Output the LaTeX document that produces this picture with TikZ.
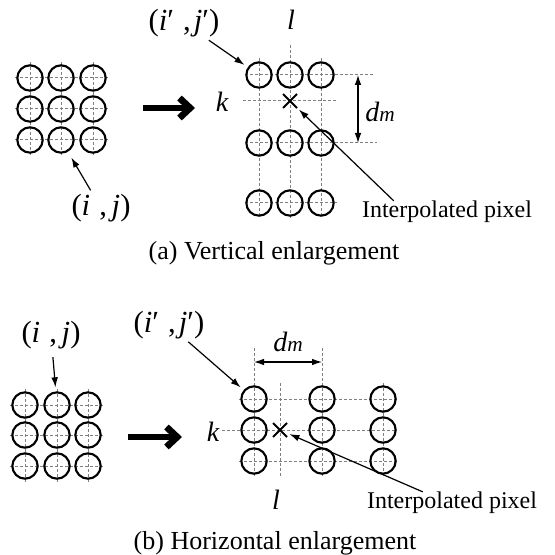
\documentclass[tikz,border=0pt]{standalone}
\usepackage{fontspec}
\setmainfont{Liberation Serif}
\usetikzlibrary{arrows.meta,shapes.misc}

\tikzset{
  pixel/.style={circle, draw, line width=1.6pt, minimum size=19pt, inner sep=0pt},
  gridline/.style={draw=gray, line width=0.75pt, dash pattern=on 2.25pt off 1.5pt},
  ptr/.style={-{Latex[length=7.5pt,width=5pt]}, line width=0.9pt},
  dimarrow/.style={{Latex[length=7.5pt,width=5pt]}-{Latex[length=7.5pt,width=5pt]}, line width=0.9pt},
  bigarrow/.style={-{Straight Barb[length=8pt,width=15pt]}, line width=5pt},
  txt/.style={font=\fontsize{18}{22}\selectfont, inner sep=0pt},
  coord/.style={font=\fontsize{23}{26}\selectfont, inner sep=0pt},
  var/.style={font=\fontsize{21}{24}\selectfont\itshape, inner sep=0pt},
  captext/.style={font=\fontsize{19.5}{24}\selectfont, inner sep=0pt},
  interp/.style={draw, cross out, line width=1.5pt, minimum size=9pt, inner sep=0pt},
}
\newcommand{\dmlabel}{\textit{d}{\fontsize{16}{18}\selectfont\textit{m}}}
\newcommand{\ijlabel}{(\textit{i}\hspace{0.3em},\hspace{0.15em}\textit{j})}
\newcommand{\ijplabel}{(\textit{i}′\hspace{0.3em},\hspace{0.1em}\textit{j}′)}

\begin{document}
\begin{tikzpicture}[x=0.75pt, y=-0.75pt]
\useasboundingbox (0,0) rectangle (554,555);

% (a) original pixels
\foreach \x in {30,61,93}
  \draw[gridline] (\x,62) -- (\x,156);
\foreach \y in {78,109,140}
  \draw[gridline] (15,\y) -- (109,\y);
\foreach \c/\x in {1/30,2/61,3/93}
  \foreach \r/\y in {1/78,2/109,3/140}
    \node[pixel] (a\r\c) at (\x,\y) {};

\node[coord] (ija) at (101,208) {\ijlabel};
\draw[ptr, shorten <=3pt, shorten >=5pt] (ija) -- (a32);

\coordinate (bigas) at (143,108);
\coordinate (bigae) at (195,108);
\draw[bigarrow] (bigas) -- (bigae);

% (a) vertically enlarged pixels
\draw[gridline] (259,58) -- (259,218);
\draw[gridline] (290,45) -- (290,218);
\draw[gridline] (321,58) -- (321,218);
\draw[gridline] (245,75) -- (375,75);
\draw[gridline] (245,143) -- (377,143);
\draw[gridline] (245,203) -- (337,203);
\draw[gridline] (243,101) -- (337,101);
\foreach \c/\x in {1/259,2/290,3/321}
  \foreach \r/\y in {1/75,2/143,3/203}
    \node[pixel] (v\r\c) at (\x,\y) {};
\node[interp] (xv) at (290,101) {};

\node[coord] (ijpa) at (184,23) {\ijplabel};
\draw[ptr, shorten <=4pt, shorten >=3pt] (ijpa) -- (v11);
\node[var] (kv) at (222,102) {k};
\node[var] (lv) at (291,20) {l};
\coordinate (dvt) at (358,75);
\coordinate (dvb) at (358,143);
\draw[dimarrow] (dvt) -- (dvb);
\node[var, font=\fontsize{21}{24}\selectfont] (dv) at (380,112) {\dmlabel};
\node[txt] (ipv) at (447,212) {Interpolated pixel};
\draw[ptr, shorten >=2pt] ([xshift=24pt]ipv.north west) -- (xv);

\node[captext] (capa) at (274,253) {(a) Vertical enlargement};

% (b) original pixels
\foreach \x in {25,57,88}
  \draw[gridline] (\x,389) -- (\x,482);
\foreach \y in {405,435,466}
  \draw[gridline] (10,\y) -- (104,\y);
\foreach \c/\x in {1/25,2/57,3/88}
  \foreach \r/\y in {1/405,2/435,3/466}
    \node[pixel] (b\r\c) at (\x,\y) {};

\node[coord] (ijb) at (51,335) {\ijlabel};
\draw[ptr, shorten <=6pt, shorten >=3pt] (ijb) -- (b12);

\coordinate (bigbs) at (128,437);
\coordinate (bigbe) at (182,437);
\draw[bigarrow] (bigbs) -- (bigbe);

% (b) horizontally enlarged pixels
\draw[gridline] (254,348) -- (254,477);
\draw[gridline] (322,348) -- (322,477);
\draw[gridline] (383,383) -- (383,477);
\draw[gridline] (280,383) -- (280,477);
\draw[gridline] (239,399) -- (397,399);
\draw[gridline] (222,430) -- (397,430);
\draw[gridline] (239,461) -- (397,461);
\foreach \c/\x in {1/254,2/322,3/383}
  \foreach \r/\y in {1/399,2/430,3/461}
    \node[pixel] (h\r\c) at (\x,\y) {};
\node[interp] (xh) at (280,430) {};

\node[coord] (ijpb) at (169,325) {\ijplabel};
\draw[ptr, shorten <=3pt, shorten >=3pt] (ijpb) -- (h11);
\node[var] (kh) at (213,432) {k};
\node[var] (lh) at (276,500) {l};
\coordinate (dhl) at (254,362);
\coordinate (dhr) at (322,362);
\draw[dimarrow] (dhl) -- (dhr);
\node[var, font=\fontsize{21}{24}\selectfont] (dh) at (288,342) {\dmlabel};
\node[txt] (iph) at (452,503) {Interpolated pixel};
\draw[ptr, shorten >=2pt] ([xshift=42pt]iph.north west) -- (xh);

\node[captext] (capb) at (275,543) {(b) Horizontal enlargement};
\end{tikzpicture}
\end{document}
